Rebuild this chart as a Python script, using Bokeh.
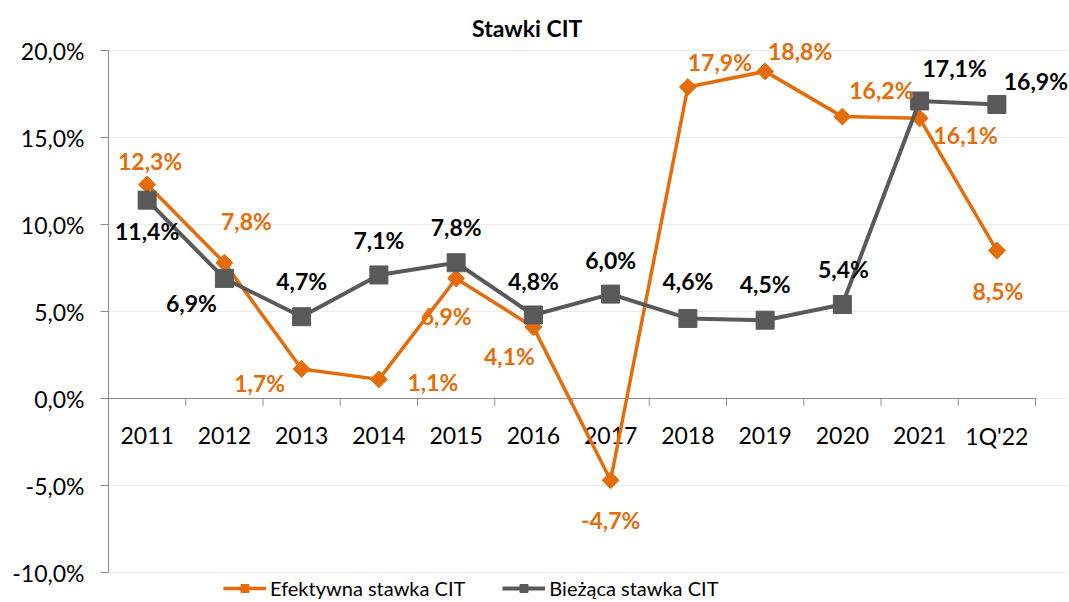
import math
from bokeh.plotting import figure
from bokeh.models import (ColumnDataSource, Range1d, FixedTicker, CustomJSTickFormatter,
                          Legend, LegendItem)
from bokeh.core.properties import value
from bokeh.embed import file_html
from bokeh.resources import INLINE

categories = ["2011", "2012", "2013", "2014", "2015", "2016", "2017", "2018", "2019", "2020", "2021", "1Q'22"]
efektywna = [12.3, 7.8, 1.7, 1.1, 6.9, 4.1, -4.7, 17.9, 18.8, 16.2, 16.1, 8.5]
biezaca = [11.4, 6.9, 4.7, 7.1, 7.8, 4.8, 6.0, 4.6, 4.5, 5.4, 17.1, 16.9]
y_ticks = [-10, -5, 0, 5, 10, 15, 20]

# label offsets in screen px (style only; positive dy = down)
ef_dx = [3, 22, -42, 54, -10, -24, 0, 32, 35, 39, 46, 1]
ef_dy = [-23, -42, 14, 3, 38, 29, 40, -25, -20, -27, 17, 40]
bz_dx = [0, -33, 0, 0, 0, 0, 0, 0, 0, 1, 35, 39]
bz_dy = [31, 25, -36, -35, -36, -34, -34, -37, -36, -36, -33, -23]

ORANGE = "#E46C0A"
GRAY = "#595959"
AXIS = "#8C8C8C"
FONT = "Lato"

def fmt(v):
    return ("%.1f%%" % v).replace(".", ",")

xs = list(range(len(categories)))
n = len(categories)

# frame spans full height; visible value axis is bounded to [-10, 20]
W, H = 1068, 600
LEFT = 108
PX_PER_UNIT_Y = 17.4
ZERO_Y = 398
PX_PER_CAT = 77.25
y_top = ZERO_Y / PX_PER_UNIT_Y
y_bot = (ZERO_Y - H) / PX_PER_UNIT_Y
x_right = -0.5 + (W - LEFT) / PX_PER_CAT

p = figure(width=W, height=H, output_backend="svg", toolbar_location=None,
           x_range=Range1d(-0.5, x_right), y_range=Range1d(y_bot, y_top))
p.min_border_left = LEFT
p.min_border_right = 0
p.min_border_top = 0
p.min_border_bottom = 0
p.outline_line_color = None
p.background_fill_color = "white"
p.border_fill_color = "white"

# title
p.text(x=[4.92], y=[21.3], text=["Stawki CIT"], text_align="center", text_baseline="middle",
       text_font=value(FONT), text_font_size="23px", text_font_style="bold", text_color="black")

# axes
p.xaxis.visible = False
p.xgrid.visible = False
p.ygrid.ticker = FixedTicker(ticks=y_ticks)
p.ygrid.grid_line_color = "#EBEBEB"
p.ygrid.grid_line_width = 1
p.ygrid.bounds = (-0.5, n - 0.5)
p.yaxis.ticker = FixedTicker(ticks=y_ticks)
p.yaxis.bounds = (-10, 20)
p.yaxis.formatter = CustomJSTickFormatter(code="return tick.toFixed(1).replace('.', ',') + '%';")
p.yaxis.axis_line_color = AXIS
p.yaxis.major_tick_line_color = AXIS
p.yaxis.major_tick_out = 8
p.yaxis.major_tick_in = 0
p.yaxis.minor_tick_line_color = None
p.yaxis.major_label_text_font = FONT
p.yaxis.major_label_text_font_size = "23px"
p.yaxis.major_label_text_color = "black"
p.yaxis.major_label_standoff = 16

# category axis line at zero with ticks and labels
p.segment(x0=[-0.5], x1=[n - 0.5], y0=[0], y1=[0], line_color=AXIS, line_width=1)
bx = [i - 0.5 for i in range(n + 1)]
p.segment(x0=bx, x1=bx, y0=[0] * len(bx), y1=[-0.42] * len(bx), line_color=AXIS, line_width=1)
p.text(x=xs, y=[0] * n, text=categories, text_align="center", text_baseline="middle",
       y_offset=37, text_font=value(FONT), text_font_size="23px", text_color="black")

# series
ef_src = ColumnDataSource(dict(x=xs, y=efektywna, lab=[fmt(v) for v in efektywna], dx=ef_dx, dy=ef_dy))
bz_src = ColumnDataSource(dict(x=xs, y=biezaca, lab=[fmt(v) for v in biezaca], dx=bz_dx, dy=bz_dy))

l1 = p.line("x", "y", source=ef_src, line_color=ORANGE, line_width=3.5)
m1 = p.scatter("x", "y", source=ef_src, marker="square", angle=math.pi / 4, size=12,
               fill_color=ORANGE, line_color=ORANGE)
l2 = p.line("x", "y", source=bz_src, line_color=GRAY, line_width=4)
m2 = p.scatter("x", "y", source=bz_src, marker="square", size=18, fill_color=GRAY, line_color=GRAY)

p.text("x", "y", text="lab", source=ef_src, x_offset="dx", y_offset="dy", text_align="center",
       text_baseline="middle", text_font=value(FONT), text_font_size="23px", text_font_style="bold",
       text_color=ORANGE)
p.text("x", "y", text="lab", source=bz_src, x_offset="dx", y_offset="dy", text_align="center",
       text_baseline="middle", text_font=value(FONT), text_font_size="23px", text_font_style="bold",
       text_color="black")

legend = Legend(items=[LegendItem(label="Efektywna stawka CIT", renderers=[l1, m1]),
                       LegendItem(label="Bieżąca stawka CIT", renderers=[l2, m2])],
                orientation="horizontal", location=(115, 0), border_line_color=None,
                background_fill_alpha=0, label_text_font=FONT, label_text_font_size="20px",
                label_text_color="black", glyph_width=43, glyph_height=20, spacing=37,
                padding=2, margin=0, label_standoff=4)
p.add_layout(legend, "center")

open("out.html", "w").write(file_html(p, INLINE))
